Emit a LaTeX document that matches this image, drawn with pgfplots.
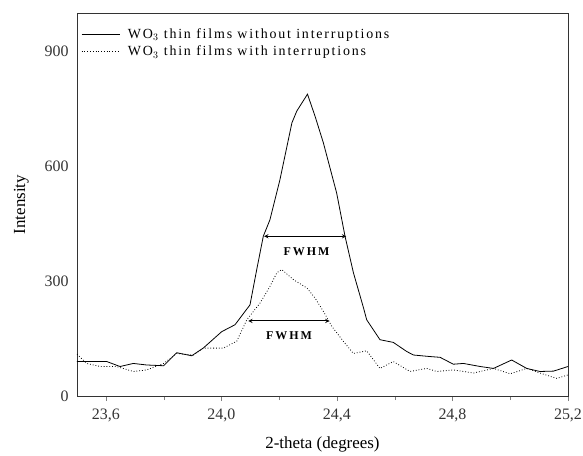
\documentclass[border=0pt]{standalone}
\usepackage{pgfplots}
\pgfplotsset{compat=1.18}
\usepackage{fontspec}
\setmainfont{Liberation Serif}
\begin{document}
\begin{tikzpicture}
\useasboundingbox (-77bp,-60bp) rectangle (506bp,396bp);
\begin{axis}[
  scale only axis,
  width=491bp, height=383bp,
  xmin=23.5, xmax=25.2,
  ymin=0, ymax=1000,
  xtick={23.6,24.0,24.4,24.8,25.2},
  minor xtick={23.8,24.2,24.6,25.0},
  ytick={0,300,600,900},
  ytick style={draw=none},
  tick align=outside,
  xtick pos=bottom,
  major tick length=5bp, minor tick length=4bp,
  x tick label style={yshift=-4bp, /pgf/number format/fixed, /pgf/number format/fixed zerofill, /pgf/number format/precision=1, /pgf/number format/use comma, /pgf/number format/assume math mode=true},
  y tick label style={/pgf/number format/assume math mode=true},
  ticklabel style={font=\fontsize{16}{19}\selectfont, text=black!80},
  xlabel={2-theta (degrees)}, ylabel={Intensity},
  label style={font=\fontsize{17}{20}\selectfont},
  xlabel style={yshift=-8bp},
  ylabel style={yshift=9bp},
  axis line style={line width=0.9pt, black!80},
  legend style={draw=none, fill=none, at={(0.0,0.971)}, anchor=north west,
    font=\fontsize{14}{16}\selectfont\addfontfeature{LetterSpace=13}, row sep=2.5bp, inner xsep=4bp},
  legend cell align=left,
  legend image code/.code={\draw[#1] (0bp,0bp) -- (38bp,0bp);},
]
\addplot[black, line width=0.8pt] coordinates {
(23.500,90) (23.603,90) (23.649,77) (23.695,85) (23.741,81) (23.800,79)
(23.845,113) (23.897,105) (23.937,125) (24.001,168) (24.047,186) (24.099,238)
(24.122,329) (24.145,417) (24.168,460) (24.203,566) (24.244,713) (24.261,744)
(24.298,788) (24.324,731) (24.353,661) (24.399,530) (24.428,417) (24.457,322)
(24.492,230) (24.503,199) (24.549,147) (24.595,140) (24.642,116) (24.665,107)
(24.722,103) (24.757,101) (24.803,83) (24.838,85) (24.896,77) (24.942,72)
(25.005,94) (25.057,72) (25.103,64) (25.150,65) (25.200,77)
};
\addlegendentry{\hspace{6bp}WO$_3$ thin films without interruptions}
\addplot[black, line width=0.8pt, dotted] coordinates {
(23.500,109) (23.534,85) (23.580,77) (23.637,77) (23.695,64) (23.741,68)
(23.800,85) (23.845,111) (23.903,107) (23.937,125) (24.007,125) (24.053,143)
(24.088,199) (24.134,243) (24.168,286) (24.192,322) (24.209,330) (24.249,304)
(24.296,282) (24.324,256) (24.353,221) (24.382,182) (24.422,143) (24.457,111)
(24.503,118) (24.549,72) (24.595,90) (24.653,64) (24.711,72) (24.746,64)
(24.803,68) (24.873,60) (24.942,72) (25.000,58) (25.057,72) (25.103,60)
(25.161,46) (25.200,55)
};
\addlegendentry{\hspace{6bp}WO$_3$ thin films with interruptions}
\draw[<->, >=stealth, line width=0.9pt] (axis cs:24.148,417) -- (axis cs:24.432,417);
\node[font=\fontsize{12}{14}\selectfont\bfseries] at (axis cs:24.295,376) {F\,W\,H\,M};
\draw[<->, >=stealth, line width=0.9pt] (axis cs:24.093,196) -- (axis cs:24.374,196);
\node[font=\fontsize{12}{14}\selectfont\bfseries] at (axis cs:24.234,157) {F\,W\,H\,M};
\end{axis}
\end{tikzpicture}
\end{document}
